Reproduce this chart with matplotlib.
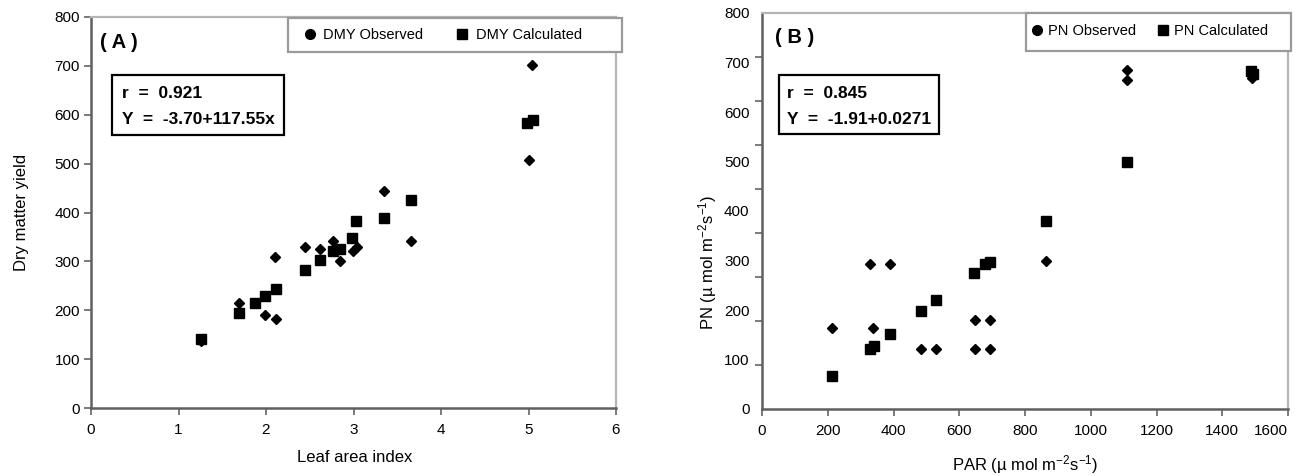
import numpy as np
import matplotlib
matplotlib.use('Agg')
import matplotlib.pyplot as plt
from matplotlib.lines import Line2D
from matplotlib.patches import Rectangle
from matplotlib import font_manager

names = {f.name for f in font_manager.fontManager.ttflist}
if 'Liberation Sans Narrow' in names:
    FAM, SC = 'Liberation Sans Narrow', 1.15
else:
    FAM, SC = 'Liberation Sans', 1.0
plt.rcParams['font.family'] = [FAM, 'DejaVu Sans']
plt.rcParams['mathtext.fontset'] = 'custom'
plt.rcParams['mathtext.rm'] = FAM
plt.rcParams['mathtext.it'] = FAM
plt.rcParams['mathtext.default'] = 'regular'

# ---------------- data ----------------
# Panel A: Leaf area index vs dry matter yield
lai_obs = [1.26, 1.69, 1.99, 2.10, 2.11, 2.44, 2.62, 2.77, 2.84, 2.99, 3.04, 3.35, 3.66, 5.00, 5.04]
dmy_obs = [137, 215, 191, 309, 183, 330, 325, 342, 301, 321, 330, 443, 342, 508, 701]
lai_calc = [1.26, 1.69, 1.87, 1.99, 2.11, 2.44, 2.62, 2.77, 2.84, 2.98, 3.03, 3.35, 3.66, 4.98, 5.05]
dmy_calc = [142, 194, 215, 230, 243, 282, 303, 321, 326, 347, 382, 388, 425, 583, 589]

# Panel B: PAR vs PN
par_obs = [214, 328, 339, 388, 485, 530, 647, 647, 695, 695, 864, 1110, 1110, 1491, 1491]
pn_obs = [164, 292, 164, 292, 122, 122, 179, 121, 179, 121, 298, 684, 665, 668, 678]
par_calc = [214, 328, 341, 388, 485, 530, 646, 679, 695, 864, 1110, 1488, 1493]
pn_calc = [67, 121, 127, 152, 197, 220, 275, 292, 297, 379, 498, 683, 677]

xticks_a = [0, 1, 2, 3, 4, 5, 6]
yticks = [0, 100, 200, 300, 400, 500, 600, 700, 800]
xticks_b = [0, 200, 400, 600, 800, 1000, 1200, 1400, 1600]

W, H = 1302, 476
fig = plt.figure(figsize=(W / 100, H / 100), dpi=100)
fig.patch.set_facecolor('white')


def rect(l, r, t, b):
    return [l / W, 1 - b / H, (r - l) / W, (b - t) / H]


def style(ax):
    for s in ['top', 'right']:
        ax.spines[s].set_color('#b5b5b5')
        ax.spines[s].set_linewidth(1.6)
    for s in ['left', 'bottom']:
        ax.spines[s].set_color('#606060')
        ax.spines[s].set_linewidth(1.8)
    ax.tick_params(direction='out', length=5, width=1.3, color='#707070',
                   labelsize=11 * SC, labelcolor='black')
    ax.tick_params(axis='x', pad=6)


def fig_box(x0, y0, x1, y1, ec, lw):
    fig.add_artist(Rectangle((x0 / W, 1 - y1 / H), (x1 - x0) / W, (y1 - y0) / H,
                             transform=fig.transFigure, facecolor='white',
                             edgecolor=ec, linewidth=lw, zorder=3))


# ---------------- Panel A ----------------
axA = fig.add_axes(rect(91, 616, 17, 408))
style(axA)
axA.set_xlim(0, 6)
axA.set_ylim(0, 800)
axA.set_xticks(xticks_a)
axA.set_yticks(yticks)
axA.tick_params(axis='y', pad=3)
axA.plot(lai_obs, dmy_obs, ls='none', marker='D', ms=5, color='black', zorder=3)
axA.plot(lai_calc, dmy_calc, ls='none', marker='s', ms=7, color='black', zorder=4)

# ---------------- Panel B ----------------
axB = fig.add_axes(rect(762, 1288, 13, 409))
style(axB)
axB.set_xlim(0, 1600)
axB.set_ylim(0, 800)
axB.set_xticks(xticks_b)
axB.set_yticks(yticks)
axB.tick_params(axis='y', which='major', length=0, pad=9)
axB.set_yticks(np.linspace(0, 800, 10), minor=True)
axB.tick_params(axis='y', which='minor', direction='out', length=5, width=1.3, color='#707070')
axB.plot(par_obs, pn_obs, ls='none', marker='D', ms=5, color='black', zorder=3)
axB.plot(par_calc, pn_calc, ls='none', marker='s', ms=7, color='black', zorder=4)
axB.get_xticklabels()[-1].set_horizontalalignment('right')

# ---------------- axis labels ----------------
fig.text(22 / W, 1 - 212 / H, 'Dry matter yield', rotation=90, ha='center', va='center',
         fontsize=12 * SC)
fig.text(355 / W, 1 - 458 / H, 'Leaf area index', ha='center', va='center', fontsize=12 * SC)
fig.text(1025 / W, 1 - 465 / H, 'PAR (µ mol m$^{-2}$s$^{-1}$)', ha='center', va='center',
         fontsize=12 * SC)
fig.text(708 / W, 1 - 262 / H, 'PN (µ mol m$^{-2}$s$^{-1}$)', rotation=90, ha='center',
         va='center', fontsize=12 * SC)

# ---------------- panel titles ----------------
fig.text(100 / W, 1 - 43 / H, '( A )', ha='left', va='center', fontsize=14.5 * SC,
         fontweight='bold')
fig.text(775 / W, 1 - 38 / H, '( B )', ha='left', va='center', fontsize=14.5 * SC,
         fontweight='bold')

# ---------------- statistics boxes ----------------
fig_box(112, 75, 284, 135, 'black', 1.6)
fig.text(122 / W, 1 - 94 / H, 'r  =  0.921', ha='left', va='center', fontsize=12.5 * SC,
         fontweight='bold', zorder=4)
fig.text(122 / W, 1 - 120 / H, 'Y  =  -3.70+117.55x', ha='left', va='center',
         fontsize=12.5 * SC, fontweight='bold', zorder=4)

fig_box(779, 75, 939, 134, 'black', 1.6)
fig.text(787 / W, 1 - 94 / H, 'r  =  0.845', ha='left', va='center', fontsize=12.5 * SC,
         fontweight='bold', zorder=4)
fig.text(787 / W, 1 - 120 / H, 'Y  =  -1.91+0.0271', ha='left', va='center',
         fontsize=12.5 * SC, fontweight='bold', zorder=4)

# ---------------- legends ----------------
fig_box(288, 18, 622, 52, '#9a9a9a', 1.6)
hA = [Line2D([], [], ls='none', marker='o', ms=7, color='black', label='DMY Observed'),
      Line2D([], [], ls='none', marker='s', ms=6.5, color='black', label='DMY Calculated')]
fig.legend(handles=hA, loc='center left', bbox_to_anchor=(303 / W, 1 - 35 / H), ncol=2,
           frameon=False, borderpad=0, borderaxespad=0, handlelength=0.9,
           handletextpad=0.5, columnspacing=2.2, fontsize=10.5 * SC)

fig_box(1026, 13, 1291, 51, '#9a9a9a', 1.6)
hB = [Line2D([], [], ls='none', marker='o', ms=7, color='black', label='PN Observed'),
      Line2D([], [], ls='none', marker='s', ms=6.5, color='black', label='PN Calculated')]
fig.legend(handles=hB, loc='center left', bbox_to_anchor=(1030 / W, 1 - 31 / H), ncol=2,
           frameon=False, borderpad=0, borderaxespad=0, handlelength=0.9,
           handletextpad=0.3, columnspacing=1.4, fontsize=10.5 * SC)

fig.savefig('out.png', dpi=100, facecolor='white')
